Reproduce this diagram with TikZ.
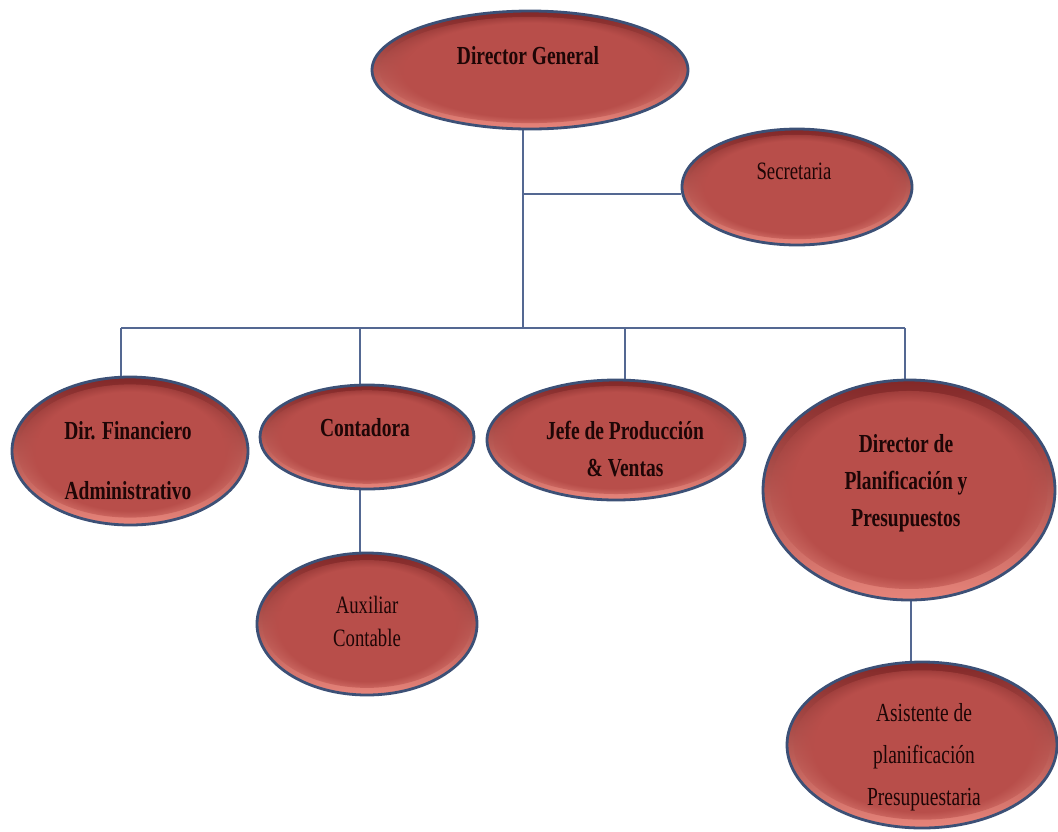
\documentclass[tikz,border=0pt]{standalone}
\usepackage{fontspec}
\setmainfont{Liberation Serif}[FakeStretch=0.75]
\usetikzlibrary{shapes.geometric,calc,fadings,backgrounds}

\definecolor{rimblue}{RGB}{60,80,118}
\definecolor{linkblue}{RGB}{84,104,146}
\definecolor{rimdark}{RGB}{130,40,40}
\definecolor{rimlight}{RGB}{230,132,122}
\definecolor{bodyred}{RGB}{184,78,74}
\definecolor{inkdark}{RGB}{30,6,6}

\tikzset{
  post/.style={ellipse, draw=rimblue, line width=2.8pt, inner sep=0pt,
    top color=rimdark, bottom color=rimlight,
    path picture={
      \fill[bodyred, path fading=circle with fuzzy edge 20 percent, fit fading=true]
        let \p1=(path picture bounding box.north east),
            \p2=(path picture bounding box.center) in
        (\p2) ellipse ({0.95*(\x1-\x2)} and {-0.9*(\y1-\y2)});
    }},
  boldlabel/.style={font=\bfseries\fontsize{26}{37}\selectfont, text=inkdark,
    align=center, inner sep=0pt},
  plainlabel/.style={font=\fontsize{25}{33}\selectfont, text=inkdark,
    align=center, inner sep=0pt},
  link/.style={draw=linkblue, line width=1.2pt}
}

\begin{document}
\begin{tikzpicture}[x=1pt,y=-1pt]
\useasboundingbox (0,0) rectangle (1058,831);

% the posts of the chart
\node[post, minimum width=316pt, minimum height=118pt] (dg) at (530,70) {};
\node[post, minimum width=230pt, minimum height=116pt] (sec) at (797,187) {};
\node[post, minimum width=236pt, minimum height=148pt] (fin) at (130,451) {};
\node[post, minimum width=214pt, minimum height=104pt] (con) at (367,437) {};
\node[post, minimum width=258pt, minimum height=120pt] (jefe) at (616,440) {};
\node[post, minimum width=292pt, minimum height=220pt] (plan) at (909,490) {};
\node[post, minimum width=220pt, minimum height=142pt] (aux) at (367,624) {};
\node[post, minimum width=270pt, minimum height=166pt] (asis) at (922,745) {};

% their titles
\node[boldlabel] (dgt) at (528,56) {Director General};
\node[plainlabel] (sect) at (794,171) {Secretaria};
\node[boldlabel] (fint) at (128,461) {Dir. Financiero\\[23pt]Administrativo};
\node[boldlabel] (cont) at (365,428) {Contadora};
\node[boldlabel] (jefet) at (625,449) {Jefe de Producción\\\& Ventas};
\node[boldlabel] (plant) at (906,483) {Director de\\Planificación y\\Presupuestos};
\node[plainlabel] (auxt) at (367,621) {Auxiliar\\Contable};
\node[plainlabel, font=\fontsize{26}{42}\selectfont] (asist) at (924,757)
  {Asistente de\\planificación\\Presupuestaria};

% branch points of the tree
\coordinate (tsec) at (523,194);
\coordinate (tbus) at (523,328);
\coordinate (bl) at (121,328);
\coordinate (bc) at (360,328);
\coordinate (bj) at (625,328);
\coordinate (br) at (905,328);
\coordinate (pa) at (911,560);

\begin{scope}[on background layer]
  \fill[white] (0,0) rectangle (1058,831);
  \draw[link] (tbus |- dg.south) -- (tbus);
  \draw[link] (tsec) -- (tsec -| sec.west);
  \draw[link] (bl) -- (br);
  \draw[link] (bl) -- (bl |- fin.north);
  \draw[link] (bc) -- (bc |- con.north);
  \draw[link] (bj) -- (bj |- jefe.north);
  \draw[link] (br) -- (br |- plan.north);
  \draw[link] (bc |- con.south) -- (bc |- aux.north);
  \draw[link] (pa |- plan.south) -- (pa |- asis.north);
\end{scope}
\end{tikzpicture}
\end{document}
